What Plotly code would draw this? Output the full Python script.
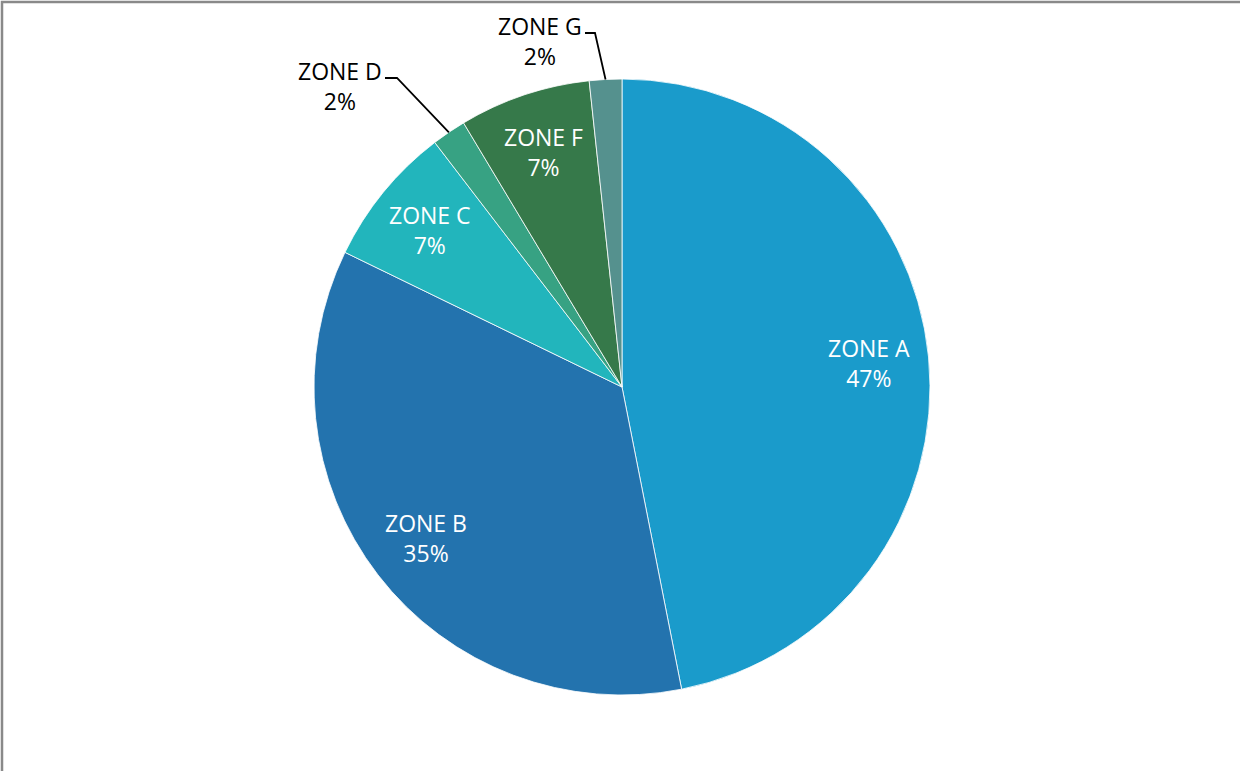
import math
import plotly.graph_objects as go

zones = ["ZONE A", "ZONE B", "ZONE C", "ZONE D", "ZONE F", "ZONE G"]
shares = [46.9, 35.3, 7.4, 1.8, 6.9, 1.7]
colors = ["#1A9BCB", "#2373AE", "#22B5BC", "#37A283", "#36794A", "#55918E"]
outside_zones = ["ZONE D", "ZONE G"]

W, H = 1240, 771
CX, CY, R = 622, 387, 308
FONT = "Open Sans"
FS = 23
INSIDE_R = 0.805

fig = go.Figure(go.Pie(
    labels=zones,
    values=shares,
    sort=False,
    direction="clockwise",
    rotation=0,
    marker=dict(colors=colors, line=dict(color="white", width=0.8)),
    textinfo="none",
    domain=dict(x=[(CX - R) / W, (CX + R) / W], y=[1 - (CY + R) / H, 1 - (CY - R) / H]),
    hoverinfo="label+percent",
    showlegend=False,
))

total = sum(shares)
# outside label placement: (label centre x, centre y, elbow x, line end x) in px
label_pos = {"ZONE D": (340, 86, 397, 385), "ZONE G": (540, 41, 595, 585)}
shapes = []
annotations = []
cum = 0
for z, v in zip(zones, shares):
    mid = 2 * math.pi * (cum + v / 2) / total
    cum += v
    pct = round(100 * v / total)
    if z in outside_zones:
        ex = CX + R * math.sin(mid)
        ey = CY - R * math.cos(mid)
        lx, ly, elx, endx = label_pos[z]
        ely = ly - 8
        pts = [(ex, ey), (elx, ely), (endx, ely)]
        path = "M " + " L ".join(f"{px / W:.5f},{1 - py / H:.5f}" for px, py in pts)
        shapes.append(dict(type="path", xref="paper", yref="paper", path=path,
                           line=dict(color="black", width=1.8)))
        annotations.append(dict(x=lx / W, y=1 - ly / H, xref="paper", yref="paper",
                                text=f"{z}<br>{pct}%", showarrow=False,
                                xanchor="center", yanchor="middle",
                                font=dict(color="black", size=FS, family=FONT)))
    else:
        tx = CX + INSIDE_R * R * math.sin(mid)
        ty = CY - INSIDE_R * R * math.cos(mid)
        annotations.append(dict(x=tx / W, y=1 - ty / H, xref="paper", yref="paper",
                                text=f"{z}<br>{pct}%", showarrow=False,
                                xanchor="center", yanchor="middle",
                                font=dict(color="white", size=FS, family=FONT)))

# chart frame
shapes.append(dict(type="rect", xref="paper", yref="paper",
                   x0=2 / W, x1=1.2, y0=-0.2, y1=1 - 2 / H,
                   line=dict(color="#898989", width=2.5)))

fig.update_layout(
    width=W, height=H,
    margin=dict(l=0, r=0, t=0, b=0),
    paper_bgcolor="white",
    plot_bgcolor="white",
    shapes=shapes,
    annotations=annotations,
    font=dict(family=FONT),
)

fig.write_html("out.html", config={"displayModeBar": False},
               post_script="document.body.style.margin='0px';")
